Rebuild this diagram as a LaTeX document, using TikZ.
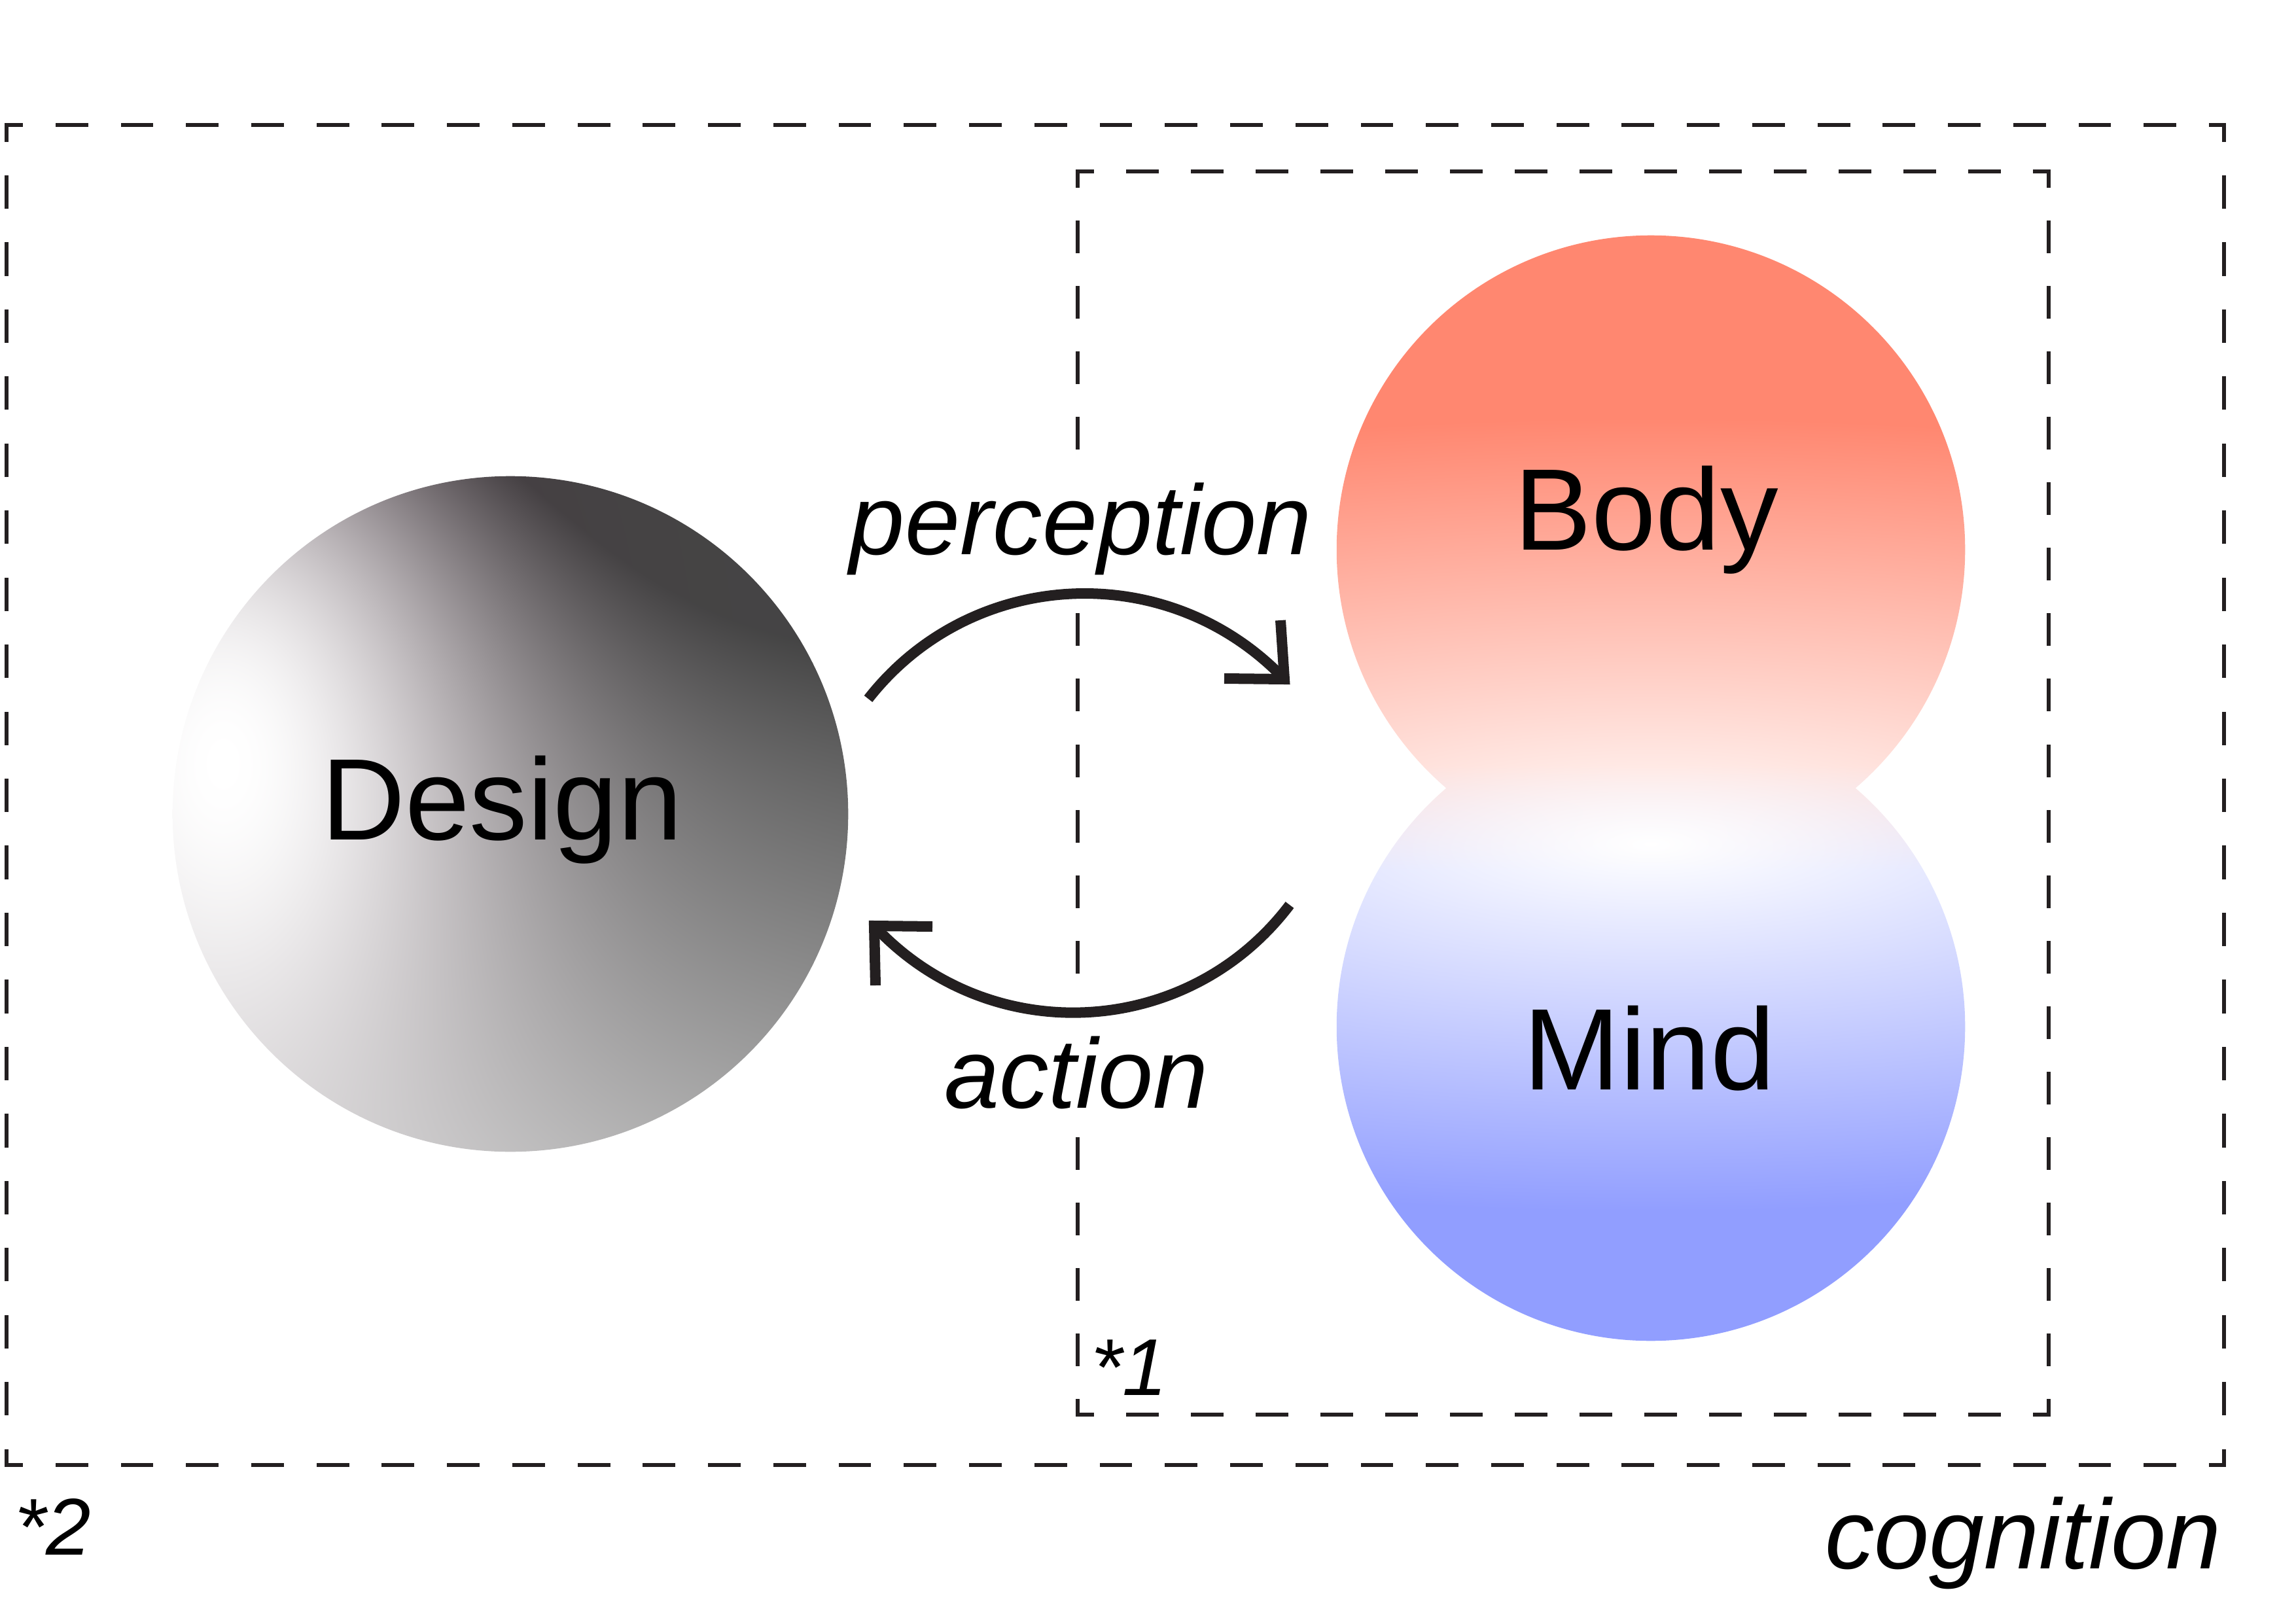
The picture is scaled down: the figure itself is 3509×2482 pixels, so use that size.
\documentclass[tikz,border=0pt]{standalone}
\usepackage{fontspec}
\setmainfont{Liberation Sans}
\usetikzlibrary{calc}
\definecolor{ink}{HTML}{231F20}

% grey gradient of the Design disc: linear ramp (dark at the top right) plus a white glow at the left
\pgfdeclarefunctionalshading{designshade}{\pgfpoint{-50bp}{-50bp}}{\pgfpoint{50bp}{50bp}}{}{
25 div exch 25 div
2 copy -0.0423 mul exch -0.2464 mul add 0.461 add
2 index dup 0 gt {dup mul 0.15 mul} {pop 0} ifelse sub
3 1 roll
0.85 add 1.3 mul dup mul exch 0.15 sub 0.85 mul dup mul add
1.21 div neg 2.71828 exch exp
1 index neg 1 add 1 index mul 3 -1 roll add
dup 0.27 lt {pop 0.27} if dup 1 gt {pop 1} if
dup neg 1 add 2 index mul
1 index 2 index 2 index 0.12 mul sub 3 index 3 index 0.05 mul sub
6 3 roll pop pop pop
}

% salmon-to-blue gradient of the Body/Mind shape
\pgfdeclarefunctionalshading{bmshade}{\pgfpoint{-50bp}{-50bp}}{\pgfpoint{50bp}{50bp}}{}{
33.78 mul 85.5 add exch 5.76 mul dup mul 1 index dup mul add sqrt
1 index 100 div dup 1 gt {pop 1} if dup -1 lt {pop -1} if 45 mul 605 add div
dup 1 gt {pop 1} if
exch 40 sub 160 div 0.5 add dup 1 gt {pop 1} if dup 0 lt {pop 0} if
1 index 1 index neg 1 add 0.43 mul mul neg 1 add
2 index 2 index 0.09 mul 0.38 add mul neg 1 add
3 index 3 index 0.56 mul mul neg 1 add
5 3 roll pop pop
}

\begin{document}
\begin{tikzpicture}[x=0.01cm, y=-0.01cm,
  boxline/.style={draw=ink, line width=0.06cm, line cap=rect},
  arcline/.style={draw=ink, line width=0.16cm},
  chevron/.style={draw=ink, line width=0.16cm, line join=miter, line cap=butt},
  bigtxt/.style={font=\fontsize{50.4pt}{60pt}\selectfont, inner sep=0pt, anchor=base, text=black},
  itxt/.style={font=\fontsize{43pt}{52pt}\selectfont\itshape, inner sep=0pt, text=black},
  startxt/.style={font=\fontsize{35pt}{42pt}\selectfont\itshape, inner sep=0pt, anchor=base west, text=black},
]
\useasboundingbox (0,0) rectangle (3509,2482);

% discs
\node[circle, minimum size=10.32cm, inner sep=0pt, shade, shading=designshade] (design) at (780,1244) {};
\coordinate (bodyc) at (2523,840);
\coordinate (mindc) at (2523,1569);
\shade[shading=bmshade] (bodyc) circle[radius=4.8cm] (mindc) circle[radius=4.8cm];

% outer dashed frame
\coordinate (o1) at (10,191);
\coordinate (o2) at (3399,191);
\coordinate (o3) at (3399,2239);
\coordinate (o4) at (10,2239);
\draw[boxline, dash pattern=on 0.43838cm off 0.55838cm, dash phase=0.21919cm] (o1) -- (o2);
\draw[boxline, dash pattern=on 0.43838cm off 0.55838cm, dash phase=0.21919cm] (o4) -- (o3);
\draw[boxline, dash pattern=on 0.452cm off 0.572cm, dash phase=0.226cm] (o1) -- (o4);
\draw[boxline, dash pattern=on 0.452cm off 0.572cm, dash phase=0.226cm] (o2) -- (o3);

% inner dashed frame
\coordinate (i1) at (1647,262);
\coordinate (i2) at (3131,262);
\coordinate (i3) at (3131,2162);
\coordinate (i4) at (1647,2162);
\draw[boxline, dash pattern=on 0.43467cm off 0.55467cm, dash phase=0.21733cm] (i1) -- (i2);
\draw[boxline, dash pattern=on 0.43467cm off 0.55467cm, dash phase=0.21733cm] (i4) -- (i3);
\draw[boxline, dash pattern=on 0.44cm off 0.56cm, dash phase=0.22cm] (i1) -- (i4);
\draw[boxline, dash pattern=on 0.44cm off 0.56cm, dash phase=0.22cm] (i2) -- (i3);

% texts
\node[bigtxt] (designlbl) at (767,1283) {Design};
\node[bigtxt] (bodylbl) at (2516,840) {Body};
\node[bigtxt] (mindlbl) at (2521,1665) {Mind};
\node[itxt, anchor=base, fill=white, text height=1.47cm, text depth=0.43cm] (perc) at (1652,847) {perception};
\node[itxt, anchor=base, fill=white, text height=1.6cm, text depth=0.4cm] (act) at (1645,1693) {action};
\node[itxt, anchor=base east] (cog) at (3395,2397) {cognition};
\node[startxt] (star1) at (1667,2132) {*1};
\node[startxt] (star2) at (22,2376) {*2};

% perception arrow
\coordinate (pstart) at (1327,1068);
\coordinate (ptip) at (1963,1038);
\draw[arcline] (pstart) .. controls (1485,866) and (1786,852) .. (ptip);
\draw[chevron] ($(ptip)+(-92,-1)$) -- (ptip) -- ($(ptip)+(-6,-90)$);

% action arrow
\coordinate (astart) at (1971,1383);
\coordinate (atip) at (1336,1415);
\draw[arcline] (astart) .. controls (1815,1589) and (1512,1604) .. (atip);
\draw[chevron] ($(atip)+(89,1)$) -- (atip) -- ($(atip)+(2,91)$);
\end{tikzpicture}
\end{document}
